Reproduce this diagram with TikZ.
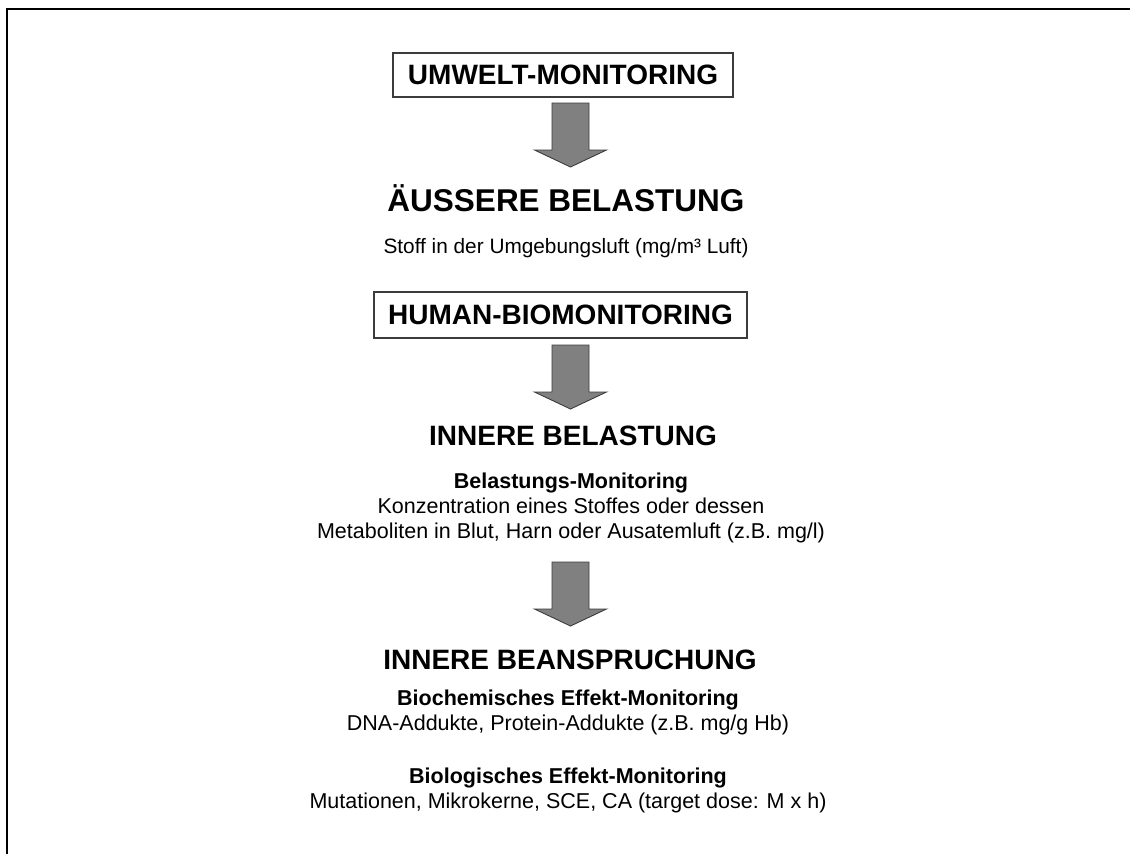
\documentclass[tikz,border=0pt]{standalone}
\usepackage{fontspec}
\setmainfont{Liberation Sans}
\usetikzlibrary{calc}
\definecolor{arrowfill}{RGB}{128,128,128}
\definecolor{arrowline}{RGB}{60,60,60}
\definecolor{boxline}{RGB}{60,60,60}
\tikzset{
  frameline/.style={line width=2pt, black},
  monbox/.style={draw=boxline, line width=1.2pt, fill=white, inner sep=0pt,
    font=\fontsize{28}{34}\selectfont\bfseries},
  heading/.style={anchor=base, inner sep=0pt, font=\fontsize{28}{34}\selectfont\bfseries},
  bigheading/.style={anchor=base, inner sep=0pt, font=\fontsize{31.5}{38}\selectfont\bfseries},
  subhead/.style={anchor=base, inner sep=0pt, font=\fontsize{21.5}{25}\selectfont\bfseries},
  body/.style={anchor=base, inner sep=0pt, font=\fontsize{21.5}{25}\selectfont},
  smallbody/.style={anchor=base, inner sep=0pt, font=\fontsize{20.8}{25}\selectfont},
  blockarrow/.style={fill=arrowfill, draw=arrowline, line width=0.9pt, line join=miter}
}
\newcommand\blockarrowdown[1]{%
  \draw[blockarrow] ($(#1)+(-18.5,0)$) -- ($(#1)+(18.5,0)$) -- ($(#1)+(18.5,47)$)
    -- ($(#1)+(36,47)$) -- ($(#1)+(0,64)$) -- ($(#1)+(-36,47)$)
    -- ($(#1)+(-18.5,47)$) -- cycle;}
\begin{document}
\begin{tikzpicture}[x=1pt,y=-1pt]
\useasboundingbox (0,0) rectangle (1130,854);
% frame (left and top edges)
\coordinate (fbl) at (7,854);
\coordinate (ftl) at (7,9);
\coordinate (ftr) at (1130,9);
\draw[frameline] (fbl) -- (ftl) -- (ftr);

% boxes
\node[monbox, minimum width=340pt, minimum height=44pt] (umwelt) at (563,75) {UMWELT-MONITORING};
\node[monbox, minimum width=373pt, minimum height=46pt] (human) at (560.5,315) {HUMAN-BIOMONITORING};

% headings and texts
\node[bigheading] (aeussere) at (566,211) {ÄUSSERE BELASTUNG};
\node[smallbody] (stoff) at (566,253) {Stoff in der Umgebungsluft (mg/m³ Luft)};

\node[heading] (innere) at (573,445) {INNERE BELASTUNG};
\node[subhead] (belmon) at (571,488) {Belastungs-Monitoring};
\node[body] (konz) at (571,513) {Konzentration eines Stoffes oder dessen};
\node[body] (metab) at (571,538) {Metaboliten in Blut, Harn oder Ausatemluft (z.B. mg/l)};

\node[heading] (beans) at (570,669) {INNERE BEANSPRUCHUNG};
\node[subhead] (biochem) at (568,705) {Biochemisches Effekt-Monitoring};
\node[body] (dna) at (568,730) {DNA-Addukte, Protein-Addukte (z.B. mg/g Hb)};
\node[subhead] (biolog) at (568,783) {Biologisches Effekt-Monitoring};
\node[body] (mutat) at (568,808) {Mutationen, Mikrokerne, SCE, CA (target dose: M x h)};

% block arrows
\coordinate (a1) at (570.5,103);
\coordinate (a2) at (570.5,345);
\coordinate (a3) at (570.5,562);
\blockarrowdown{a1}
\blockarrowdown{a2}
\blockarrowdown{a3}
\end{tikzpicture}
\end{document}
